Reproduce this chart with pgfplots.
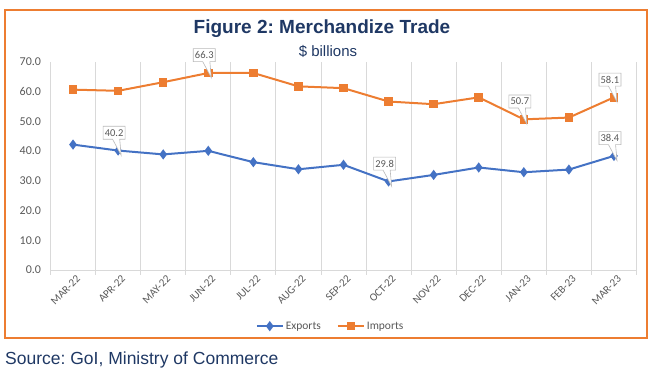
\documentclass[border=0pt]{standalone}
\usepackage{fontspec}
\setmainfont{Carlito}
\newfontfamily\titlefont{Liberation Sans}
\usepackage{pgfplots}
\pgfplotsset{compat=1.18}
\usetikzlibrary{shapes.callouts}
\definecolor{expblue}{HTML}{4472C4}
\definecolor{imporange}{HTML}{ED7D31}
\definecolor{navy}{HTML}{1F3864}
\definecolor{gridgray}{HTML}{D9D9D9}
\definecolor{labelgray}{HTML}{595959}
\frenchspacing
\begin{document}
\begin{tikzpicture}
\path[use as bounding box] (0pt,0pt) rectangle (653pt,377pt);
\draw[imporange, line width=2.5pt] (5pt,39pt) rectangle (647pt,367pt);
\node[font=\titlefont\bfseries\fontsize{19}{21}\selectfont, text=navy] at (322pt,348pt) {Figure 2: Merchandize Trade};
\node[font=\titlefont\fontsize{15}{17}\selectfont, text=navy] at (328pt,326pt) {\$ billions};
\node[font=\titlefont\fontsize{17.5}{20}\selectfont, text=navy, anchor=west, inner sep=0pt] at (5pt,17pt) {Source: GoI, Ministry of Commerce};
\begin{axis}[
  at={(50.5pt,107pt)}, anchor=south west,
  scale only axis, width=586pt, height=208pt,
  xmin=-0.5, xmax=12.5, ymin=0, ymax=70,
  xtick={0,...,12},
  xticklabels={MAR-22,APR-22,MAY-22,JUN-22,JUL-22,AUG-22,SEP-22,OCT-22,NOV-22,DEC-22,JAN-23,FEB-23,MAR-23},
  minor xtick={-0.5,0.5,...,12.5},
  xminorgrids, minor x grid style={gridgray, line width=0.8pt},
  ytick={0,10,...,70},
  axis x line*=bottom, axis y line*=left,
  y axis line style={draw=none},
  x axis line style={draw=gridgray, line width=0.8pt, -},
  tick align=outside,
  major tick length=0pt, minor tick length=5pt,
  minor x tick style={draw=gridgray, line width=0.8pt},
  ytick style={draw=none},
  /pgf/number format/assume math mode=true,
  yticklabel style={font=\fontsize{12}{14}\selectfont, text=labelgray, xshift=-6pt,
    /pgf/number format/fixed, /pgf/number format/fixed zerofill, /pgf/number format/precision=1},
  xticklabel style={font=\fontsize{11}{13}\selectfont, text=labelgray, rotate=45, anchor=east, yshift=-9pt, xshift=2pt},
  legend style={draw=none, at={(0.478,-0.27)}, anchor=center, font=\fontsize{11.5}{13}\selectfont, text=labelgray, legend columns=2, /tikz/every even column/.append style={column sep=14pt}},
  legend image code/.code={\draw[mark repeat=2,mark phase=2] plot coordinates {(0pt,0pt)(13pt,0pt)(26pt,0pt)};},
]
\addplot[expblue, line width=2pt, mark=diamond*, mark size=3.5pt, mark options={solid}] coordinates {
(0,42.2) (1,40.2) (2,38.9) (3,40.1) (4,36.3) (5,33.9) (6,35.4) (7,29.8) (8,32.0) (9,34.5) (10,32.9) (11,33.8) (12,38.4)};
\addlegendentry{Exports}
\addplot[imporange, line width=2pt, mark=square*, mark size=3.3pt, mark options={solid}] coordinates {
(0,60.7) (1,60.3) (2,63.2) (3,66.3) (4,66.3) (5,61.8) (6,61.2) (7,56.7) (8,55.8) (9,58.1) (10,50.7) (11,51.3) (12,58.1)};
\addlegendentry{Imports}
\addplot[draw=none, mark=none, forget plot, point meta=y,
  nodes near coords,
  nodes near coords style={rectangle callout, draw=gray!55, fill=white, line width=0.6pt,
    font=\fontsize{10.5}{12}\selectfont, text=labelgray, inner sep=1.5pt,
    minimum width=22pt, minimum height=13pt, anchor=south, xshift=-4pt, yshift=11pt,
    callout relative pointer={(5pt,-16pt)},
    /pgf/number format/fixed, /pgf/number format/fixed zerofill, /pgf/number format/precision=1}]
 coordinates {(1,40.2) (7,29.8) (12,38.4) (3,66.3) (10,50.7) (12,58.1)};
\end{axis}
\end{tikzpicture}
\end{document}
